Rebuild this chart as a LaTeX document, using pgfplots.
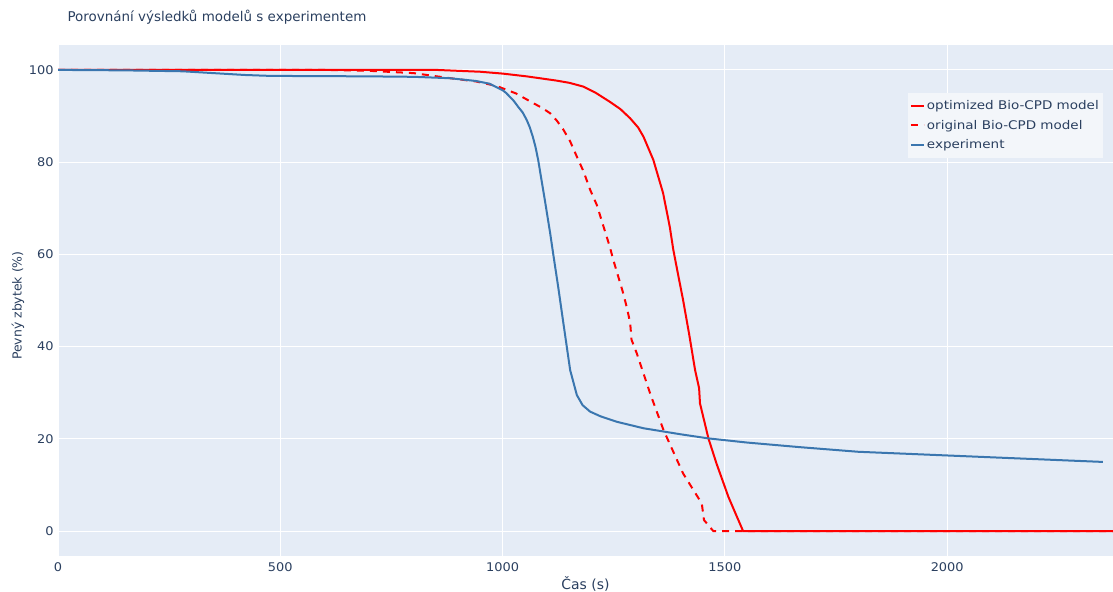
\documentclass[border=0pt]{standalone}
\usepackage{fontspec}
\setmainfont{DejaVu Sans}
\newfontfamily\legfont[FakeStretch=1.13]{DejaVu Sans}
\newfontfamily\tickfont[FakeStretch=1.08]{DejaVu Sans}
\usepackage{pgfplots}
\pgfplotsset{compat=1.18}
\definecolor{bgc}{HTML}{E5ECF6}
\definecolor{txt}{HTML}{2A3F5F}
\definecolor{expblue}{HTML}{3A76AF}
\definecolor{legbg}{HTML}{F3F6FA}
\begin{document}
\begin{tikzpicture}
\begin{axis}[
  scale only axis, width=1055bp, height=511bp,
  xmin=0, xmax=2373, ymin=-5.4, ymax=105.4,
  axis background/.style={fill=bgc},
  axis line style={draw=none},
  grid=major, major grid style={white, line width=1bp},
  major tick length=0pt,
  xtick={0,500,1000,1500,2000}, ytick={0,20,40,60,80,100},
  /pgf/number format/assume math mode=true,
  /pgf/number format/1000 sep={},
  tick label style={font=\tickfont\fontsize{12}{14}\selectfont, text=txt},
  xticklabel style={yshift=-3bp},
  yticklabel style={xshift=-1bp},
  title={Porovnání výsledků modelů s experimentem},
  title style={at={(rel axis cs:0,1)}, anchor=base west, xshift=6bp, yshift=18bp, font=\fontsize{13.5}{16}\selectfont, text=txt},
  xlabel={Čas (s)},
  xlabel style={at={(axis description cs:0.5,0)}, anchor=center, yshift=-28bp, font=\fontsize{14}{16}\selectfont, text=txt},
  ylabel={Pevný zbytek (\%)},
  ylabel style={at={(axis description cs:0,0.49)}, anchor=center, yshift=40bp, font=\fontsize{12.5}{16}\selectfont, text=txt},
  legend style={at={(rel axis cs:0.9905,0.906)}, anchor=north east, fill=legbg, draw=none,
    font=\legfont\fontsize{12}{14}\selectfont, text=txt, row sep=4.8bp, inner xsep=2bp, inner ysep=5.5bp},
  legend cell align=left,
  legend image code/.code={\draw[#1] (0bp,0bp) -- (13bp,0bp);},
]
\addplot[red, line width=2bp] coordinates {
(0,100) (850,100) (950,99.6) (1000,99.2) (1054,98.6) (1120,97.7) (1150,97.2)
(1181,96.4) (1210,95.0)
(1241,93.1) (1265,91.5) (1287,89.5) (1305,87.5) (1317,85.5) (1339,80.5)
(1361,73.3) (1376,66.0) (1384,61.0) (1395,55.5) (1406,50.1) (1420,42.5)
(1433,34.9) (1442,31.0) (1444,27.7) (1463,20.1) (1481,14.7) (1508,7.4)
(1541,0) (2373,0)};
\addlegendentry{optimized Bio-CPD model}
\addplot[red, line width=2bp, dash pattern=on 7bp off 6bp] coordinates {
(0,100) (600,100) (700,99.8) (800,99.3) (882,98.2) (940,97.5) (987,96.5)
(1030,94.9) (1069,92.8) (1088,91.8) (1107,90.6) (1122,89.0) (1137,87.0)
(1152,84.5) (1167,81.2) (1182,78.0) (1197,74.0)
(1212,70.7) (1241,61.7) (1249,58.8) (1270,52.0) (1280,48.3) (1287,45.1)
(1290,41.5) (1302,38.5) (1332,29.8) (1362,21.9) (1406,12.5) (1448,6.0)
(1453,2.4) (1474,0) (2373,0)};
\addlegendentry{original Bio-CPD model}
\addplot[expblue, line width=2bp] coordinates {
(0,100) (150,99.9) (280,99.7) (350,99.3) (420,98.9) (477,98.7) (700,98.6)
(800,98.5) (881,98.2) (940,97.6) (971,97.0) (1000,95.6) (1008,95.0)
(1016,94.2) (1025,93.3)
(1035,92.0) (1045,90.8) (1054,89.2) (1061,87.6) (1068,85.5) (1074,83.3)
(1080,80.5) (1095,71.8) (1107,64.6)
(1114,60.0) (1125,53.0) (1140,42.9) (1152,34.9) (1167,29.5) (1180,27.3)
(1197,25.9) (1220,24.9) (1257,23.7) (1317,22.3) (1400,21.0) (1463,20.1)
(1550,19.2) (1669,18.2) (1800,17.2) (2000,16.4) (2200,15.6) (2350,15.0)};
\addlegendentry{experiment}
\end{axis}
\pgfresetboundingbox
\path ([shift={(-58bp,-35bp)}]current axis.south west) rectangle ([shift={(0bp,45bp)}]current axis.north east);
\end{tikzpicture}
\end{document}
